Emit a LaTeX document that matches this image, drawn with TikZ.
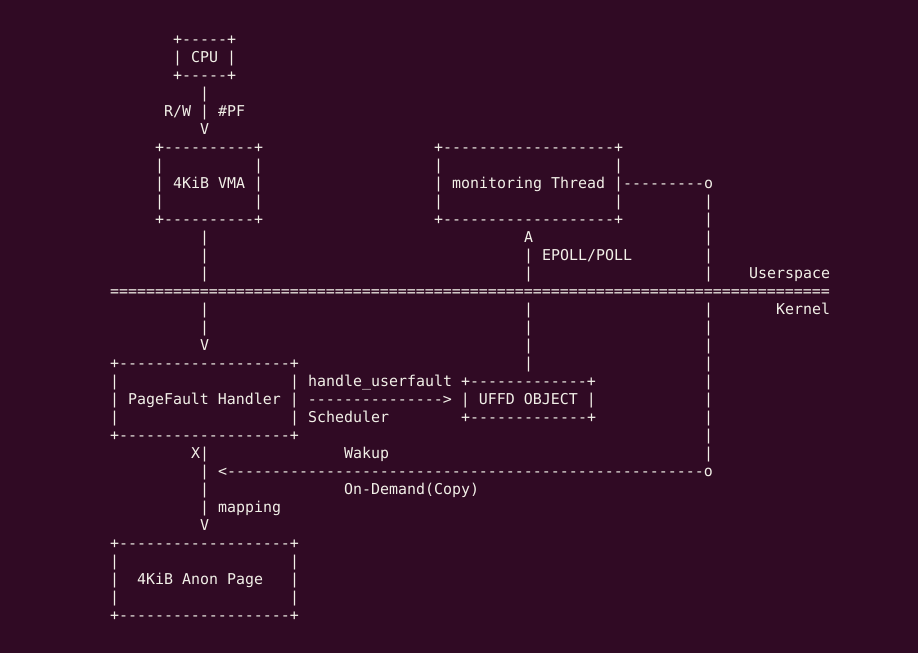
\documentclass[tikz,border=0pt]{standalone}
\usepackage{fontspec}
\setmonofont{DejaVu Sans Mono}
\definecolor{bgpurple}{RGB}{48,10,36}
\definecolor{fgtext}{RGB}{242,240,232}
\newcommand\asc[4]{\node[ascii] (#3) at ({110+9*#1},{-(44.3+18*#2)}) {#4};}
\begin{document}
\begin{tikzpicture}[x=1pt,y=1pt,
  ascii/.style={anchor=base west, inner sep=0pt, outer sep=0pt, text=fgtext,
    font=\ttfamily\fontsize{14.95}{18}\selectfont\frenchspacing}]
\fill[bgpurple] (0,0) rectangle (918,-653);
\useasboundingbox (0,0) rectangle (918,-653);
% CPU box
\asc{7}{0}{cpuT}{+-----+}
\asc{7}{1}{cpu}{| CPU |}
\asc{7}{2}{cpuB}{+-----+}
\asc{10}{3}{cpuLine}{|}
\asc{6}{4}{rw}{R/W | \#PF}
\asc{10}{5}{cpuArrow}{V}
% VMA box
\asc{5}{6}{vmaT}{+----------+}
\asc{5}{7}{vmaL1}{|}
\asc{16}{7}{vmaR1}{|}
\asc{5}{8}{vma}{| 4KiB VMA |}
\asc{5}{9}{vmaL2}{|}
\asc{16}{9}{vmaR2}{|}
\asc{5}{10}{vmaB}{+----------+}
% monitoring box
\asc{36}{6}{monT}{+-------------------+}
\asc{36}{7}{monL1}{|}
\asc{56}{7}{monR1}{|}
\asc{36}{8}{mon}{| monitoring Thread |---------o}
\asc{36}{9}{monL2}{|}
\asc{56}{9}{monR2}{|}
\asc{36}{10}{monB}{+-------------------+}
% right vertical line
\foreach \r in {9,...,13,15,16,...,23}{\asc{66}{\r}{rv\r}{|}}
% VMA down line
\asc{10}{11}{v11}{|}
\asc{10}{12}{v12}{|}
\asc{10}{13}{v13}{|}
\asc{10}{15}{v15}{|}
\asc{10}{16}{v16}{|}
\asc{10}{17}{v17}{V}
% epoll line
\asc{46}{11}{epA}{A}
\asc{46}{12}{ep}{| EPOLL/POLL}
\asc{46}{13}{e13}{|}
\asc{46}{15}{e15}{|}
\asc{46}{16}{e16}{|}
\asc{46}{17}{e17}{|}
\asc{46}{18}{e18}{|}
% userspace / kernel
\asc{71}{13}{user}{Userspace}
\asc{0}{14}{sep}{================================================================================}
\asc{74}{15}{kern}{Kernel}
% PageFault handler box
\asc{0}{18}{pfT}{+-------------------+}
\asc{0}{19}{pfL1}{|}
\asc{20}{19}{huf}{| handle\_userfault +-------------+}
\asc{0}{20}{pf}{| PageFault Handler | ---------------> | UFFD OBJECT |}
\asc{0}{21}{pfL2}{|}
\asc{20}{21}{sch}{| Scheduler}
\asc{39}{21}{uffdB}{+-------------+}
\asc{0}{22}{pfB}{+-------------------+}
% wakeup
\asc{9}{23}{x}{X|}
\asc{26}{23}{wak}{Wakup}
\asc{10}{24}{wline}{| <-----------------------------------------------------o}
\asc{10}{25}{w25}{|}
\asc{26}{25}{ond}{On-Demand(Copy)}
\asc{10}{26}{map}{| mapping}
\asc{10}{27}{mapV}{V}
% anon page box
\asc{0}{28}{anT}{+-------------------+}
\asc{0}{29}{anL1}{|}
\asc{20}{29}{anR1}{|}
\asc{0}{30}{anL}{|}
\asc{3}{30}{an}{4KiB Anon Page}
\asc{20}{30}{anR}{|}
\asc{0}{31}{anL2}{|}
\asc{20}{31}{anR2}{|}
\asc{0}{32}{anB}{+-------------------+}
\end{tikzpicture}
\end{document}
